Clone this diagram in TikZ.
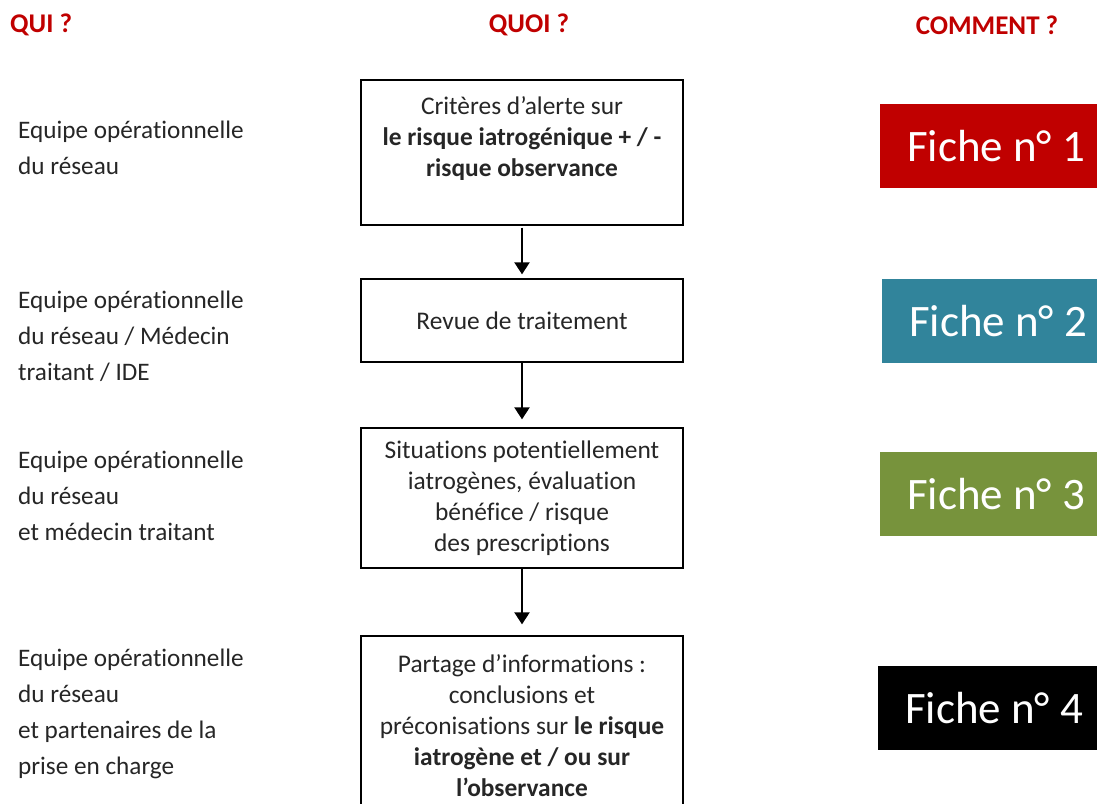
\documentclass[tikz,border=0pt]{standalone}
\usepackage{fontspec}
\setmainfont{Carlito}[Ligatures={NoCommon}]
\usetikzlibrary{arrows.meta}
\definecolor{hdrred}{HTML}{C00000}
\definecolor{ficheA}{HTML}{C00000}
\definecolor{ficheB}{HTML}{31849B}
\definecolor{ficheC}{HTML}{77933C}
\definecolor{ficheD}{HTML}{000000}
\begin{document}
\begin{tikzpicture}[x=1pt,y=-1pt,
  hdr/.style={font=\fontsize{27}{30}\selectfont\bfseries, text=hdrred, inner sep=0pt},
  who/.style={font=\fontsize{25.2}{35.8}\selectfont, align=left, anchor=west, inner sep=0pt, text=black!85},
  stepbox/.style={draw=black, line width=1.3pt, minimum width=322pt, align=center,
    font=\fontsize{25.4}{31}\selectfont, inner sep=0pt, text=black!85},
  fiche/.style={minimum width=232pt, minimum height=84pt, inner sep=0pt, text=white,
    font=\fontsize{45}{50}\selectfont},
  flow/.style={line width=2.2pt, -{Triangle[length=12pt,width=15pt]}}
]
\clip (0,0) rectangle (1097,803);
\fill[white] (0,0) rectangle (1097,803);

% headers
\node[hdr, anchor=west] (hqui) at (10,25) {QUI ?};
\node[hdr] (hquoi) at (529,25) {QUOI ?};
\node[hdr] (hcomment) at (987,25) {COMMENT ?};

% who
\node[who] (w1) at (18,148) {Equipe opérationnelle\\du réseau};
\node[who] (w2) at (18,336) {Equipe opérationnelle\\du réseau / Médecin\\traitant / IDE};
\node[who] (w3) at (18,496) {Equipe opérationnelle\\du réseau\\et médecin traitant};
\node[who] (w4) at (18,714) {Equipe opérationnelle\\du réseau\\et partenaires de la\\prise en charge};

% steps
\node[stepbox, minimum height=145pt] (b1) at (522,152.5)
  {Critères d’alerte sur\\\textbf{le risque iatrogénique + / -}\\\textbf{risque observance}\\\mbox{}};
\node[stepbox, minimum height=83pt] (b2) at (522,320.5) {Revue de traitement};
\node[stepbox, minimum height=140pt] (b3) at (522,498)
  {Situations potentiellement\\iatrogènes, évaluation\\bénéfice / risque\\des prescriptions};
\node[stepbox, minimum height=180pt] (b4) at (522,726)
  {Partage d’informations :\\conclusions et\\préconisations sur \textbf{le risque}\\\textbf{iatrogène et / ou sur}\\\textbf{l’observance}};

% arrows
\draw[flow, shorten <=2pt, shorten >=4pt] (b1.south) -- (b2.north);
\draw[flow, shorten <=0pt, shorten >=8pt] (b2.south) -- (b3.north);
\draw[flow, shorten <=0pt, shorten >=11pt] (b3.south) -- (b4.north);

% fiches
\node[fiche, fill=ficheA, anchor=west] (f1) at (880,146) {Fiche n° 1};
\node[fiche, fill=ficheB, anchor=west] (f2) at (882,321) {Fiche n° 2};
\node[fiche, fill=ficheC, anchor=west] (f3) at (880,494) {Fiche n° 3};
\node[fiche, fill=ficheD, anchor=west] (f4) at (878,708) {Fiche n° 4};
\end{tikzpicture}
\end{document}
